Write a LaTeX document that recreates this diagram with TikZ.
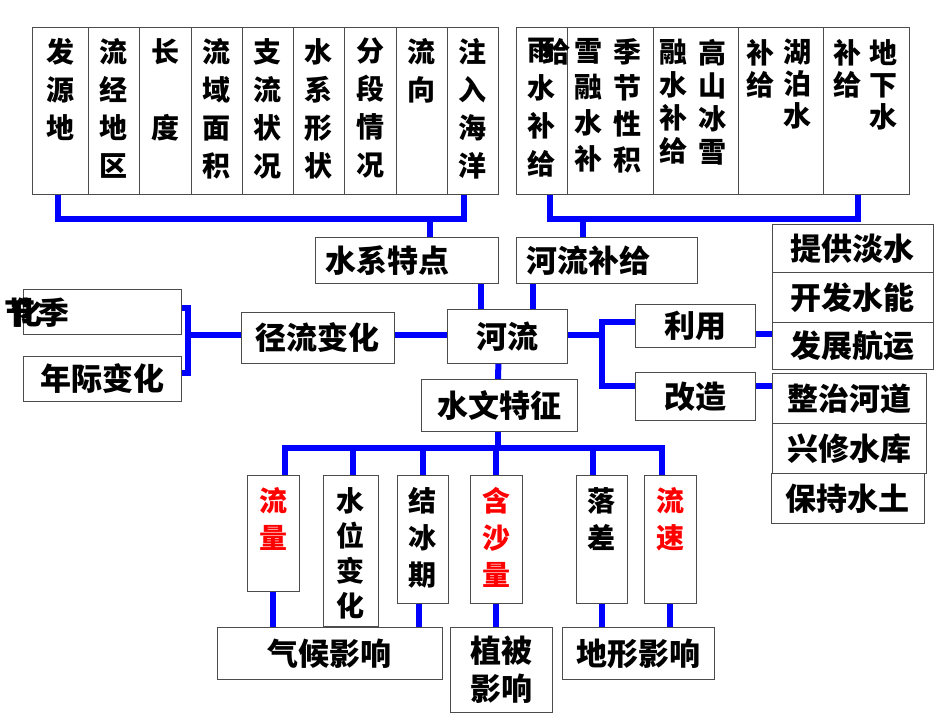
\documentclass[tikz,border=0pt]{standalone}
\usepackage{fontspec}
\setmainfont{Noto Sans CJK SC}
\usepackage{tikz}
\usetikzlibrary{positioning, calc}
\definecolor{linkblue}{RGB}{0, 0, 255}
\definecolor{hotred}{RGB}{255, 0, 0}
\tikzset{
  box/.style={draw=black!70, fill=white, line width=0.8pt, inner sep=0pt, anchor=north west},
  lbox/.style={box, inner xsep=10pt, text width=#1, align=left},
  link/.style={draw=linkblue, line width=6pt},
  vtxt/.style={align=center, anchor=north, inner sep=0pt, font=\bfseries\fontsize{28}{#1}\selectfont},
  vtxt/.default=38,
  htxt/.style={inner sep=0pt, font=\bfseries\fontsize{31}{38}\selectfont},
  hfont/.style={font=\bfseries\fontsize{31}{38}\selectfont},
}

\begin{document}
\begin{tikzpicture}[x=1pt, y=-1pt]
    \useasboundingbox (0,0) rectangle (950,713);

    % drainage features
    \node[box, minimum width=56, minimum height=167] (fayuan) at (32,27) {};
    \node[box, minimum width=51, minimum height=167] (jingguo) at (88,27) {};
    \node[box, minimum width=52, minimum height=167] (changdu) at (139,27) {};
    \node[box, minimum width=51, minimum height=167] (liuyu) at (191,27) {};
    \node[box, minimum width=51, minimum height=167] (zhiliu) at (242,27) {};
    \node[box, minimum width=51, minimum height=167] (xingzhuang) at (293,27) {};
    \node[box, minimum width=52, minimum height=167] (fenduan) at (344,27) {};
    \node[box, minimum width=51, minimum height=167] (liuxiang) at (396,27) {};
    \node[box, minimum width=51, minimum height=167] (zhuru) at (447,27) {};
    \node[vtxt, below=11pt of fayuan.north] (fayuan-t) {发\\源\\地};
    \node[vtxt, below=11pt of jingguo.north] (jingguo-t) {流\\经\\地\\区};
    \node[vtxt, below=11pt of changdu.north] (changdu-t) {长\\\mbox{}\\度};
    \node[vtxt, below=11pt of liuyu.north] (liuyu-t) {流\\域\\面\\积};
    \node[vtxt, below=11pt of zhiliu.north] (zhiliu-t) {支\\流\\状\\况};
    \node[vtxt, below=11pt of xingzhuang.north] (xingzhuang-t) {水\\系\\形\\状};
    \node[vtxt, below=11pt of fenduan.north] (fenduan-t) {分\\段\\情\\况};
    \node[vtxt, below=11pt of liuxiang.north] (liuxiang-t) {流\\向};
    \node[vtxt, below=11pt of zhuru.north] (zhuru-t) {注\\入\\海\\洋};

    % supply sources
    \node[box, minimum width=51, minimum height=167] (yushui) at (516,27) {};
    \node[box, minimum width=86, minimum height=167] (jijie) at (567,27) {};
    \node[box, minimum width=85, minimum height=167] (gaoshan) at (653,27) {};
    \node[box, minimum width=85, minimum height=167] (hupo) at (738,27) {};
    \node[box, minimum width=86, minimum height=167] (dixia) at (823,27) {};
    \node[vtxt, below=11pt of yushui.north] (yushui-t) {雨\\水\\补\\给};
    \node[vtxt, below=11pt of yushui.north, xshift=15pt] (yushui-x) {给};
    \node[vtxt=36, below=11pt of jijie.north, xshift=-22pt] (jijie-l) {雪\\融\\水\\补};
    \node[vtxt=36, below=11pt of jijie.north, xshift=17pt] (jijie-r) {季\\节\\性\\积};
    \node[vtxt=33, below=12pt of gaoshan.north, xshift=-22pt] (gaoshan-l) {融\\水\\补\\给};
    \node[vtxt=33, below=12pt of gaoshan.north, xshift=17pt] (gaoshan-r) {高\\山\\冰\\雪};
    \node[vtxt=32, below=12pt of hupo.north, xshift=-20pt] (hupo-l) {补\\给};
    \node[vtxt=32, below=12pt of hupo.north, xshift=17pt] (hupo-r) {湖\\泊\\水};
    \node[vtxt=32, below=12pt of dixia.north, xshift=-19pt] (dixia-l) {补\\给};
    \node[vtxt=32, below=12pt of dixia.north, xshift=17pt] (dixia-r) {地\\下\\水};

    % middle row
    \node[lbox=163pt, minimum height=46, hfont] (shuixi) at (315,237) {水系特点};
    \node[lbox=161pt, minimum height=46, hfont] (hebu) at (516,237) {河流补给};
    \node[box, minimum width=120, minimum height=54, hfont] (heliu) at (447,309) {河流};
    \node[box, minimum width=153, minimum height=51, hfont] (jingliu) at (241,312) {径流变化};
    \node[box, minimum width=158, minimum height=45] (jjbh) at (23,289) {};
    \node[htxt] (jjbh-a) at (54,313) {季};
    \node[htxt] (jjbh-b) at (20,313) {节};
    \node[htxt] (jjbh-c) at (27,313) {化};
    \node[box, minimum width=158, minimum height=45, hfont] (nianji) at (23,356) {年际变化};
    \node[box, minimum width=156, minimum height=52, hfont] (shuiwen) at (421,379) {水文特征};
    \node[box, minimum width=120, minimum height=43, hfont] (liyong) at (635,304) {利用};
    \node[box, minimum width=120, minimum height=48, hfont] (gaizao) at (635,372) {改造};

    % uses
    \node[box, minimum width=161, minimum height=48, hfont] (tigong) at (772,224) {提供淡水};
    \node[box, minimum width=161, minimum height=50, hfont] (kaifa) at (772,272) {开发水能};
    \node[box, minimum width=161, minimum height=47, hfont] (fazhan) at (772,322) {发展航运};
    \node[box, minimum width=154, minimum height=50, hfont] (zhengzhi) at (772,373) {整治河道};
    \node[box, minimum width=154, minimum height=50, hfont] (xingxiu) at (772,423) {兴修水库};
    \node[box, minimum width=153, minimum height=50, hfont] (baochi) at (771,473) {保持水土};

    % hydrological features
    \node[box, minimum width=52, minimum height=116] (liuliang) at (247,475) {};
    \node[box, minimum width=55, minimum height=151] (shuiwei) at (323,475) {};
    \node[box, minimum width=51, minimum height=128] (jiebing) at (397,475) {};
    \node[box, minimum width=52, minimum height=128] (hansha) at (470,475) {};
    \node[box, minimum width=51, minimum height=128] (luocha) at (576,475) {};
    \node[box, minimum width=52, minimum height=128] (liusu) at (644,475) {};
    \node[vtxt=37, text=hotred, below=12pt of liuliang.north] (liuliang-t) {流\\量};
    \node[vtxt=35, below=12pt of shuiwei.north] (shuiwei-t) {水\\位\\变\\化};
    \node[vtxt=37, below=12pt of jiebing.north] (jiebing-t) {结\\冰\\期};
    \node[vtxt=37, text=hotred, below=12pt of hansha.north] (hansha-t) {含\\沙\\量};
    \node[vtxt=37, below=12pt of luocha.north] (luocha-t) {落\\差};
    \node[vtxt=37, text=hotred, below=12pt of liusu.north] (liusu-t) {流\\速};

    \node[box, minimum width=225, minimum height=52, hfont] (qihou) at (217,627) {气候影响};
    \node[box, minimum width=102, minimum height=85, align=center, hfont] (zhibei) at (450,627) {植被\\影响};
    \node[box, minimum width=152, minimum height=52, hfont] (dixing) at (562,627) {地形影响};

    % connectors, top
    \coordinate (lbus) at (430,219);
    \coordinate (rbus) at (583,219);
    \draw[link] ([xshift=-2pt]fayuan.south) |- (lbus) -| ([xshift=-8.5pt]zhuru.south);
    \draw[link] (lbus) -- (lbus |- shuixi.north);
    \draw[link] ([xshift=8pt]yushui.south) |- (rbus) -| ([xshift=-8pt]dixia.south);
    \draw[link] (rbus) -- (rbus |- hebu.north);
    \coordinate (hl1) at ([xshift=-26pt]heliu.north);
    \coordinate (hl2) at ([xshift=26pt]heliu.north);
    \draw[link] (hl1) -- (hl1 |- shuixi.south);
    \draw[link] (hl2) -- (hl2 |- hebu.south);

    % connectors, left and right
    \coordinate (brk) at (188,335);
    \draw[link] ([yshift=3.5pt]jjbh.east) -| (brk) |- ([yshift=5.5pt]nianji.east);
    \draw[link] (brk) -- (brk -| jingliu.west);
    \draw[link] (heliu.west |- brk) -- (jingliu.east |- brk);
    \coordinate (fork) at (602,335);
    \draw[link] (heliu.east |- fork) -- (fork);
    \draw[link] ([yshift=3.5pt]liyong.west) -| (fork) |- ([yshift=10pt]gaizao.west);
    \coordinate (ly) at ([yshift=-8.5pt]liyong.east);
    \coordinate (gz) at ([yshift=10pt]gaizao.east);
    \draw[link] (ly) -- (ly -| fazhan.west);
    \draw[link] (gz) -- (gz -| zhengzhi.west);

    % connectors, bottom
    \coordinate (wbus) at (498,448);
    \draw[link] ([xshift=-9pt]heliu.south) -- (shuiwen.north -| wbus);
    \draw[link] (shuiwen.south -| wbus) -- (wbus);
    \draw[link] ([xshift=12pt]liuliang.north) |- (wbus) -| ([xshift=-8pt]liusu.north);
    \draw[link] ([xshift=2.5pt]shuiwei.north) -- ([xshift=2.5pt]shuiwei.north |- wbus);
    \draw[link] (jiebing.north) -- (jiebing.north |- wbus);
    \draw[link] (hansha.north) -- (hansha.north |- wbus);
    \draw[link] ([xshift=-8.5pt]luocha.north) -- ([xshift=-8.5pt]luocha.north |- wbus);
    \draw[link] (liuliang.south) -- (liuliang.south |- qihou.north);
    \draw[link] ([xshift=-4pt]jiebing.south) -- ([xshift=-4pt]jiebing.south |- qihou.north);
    \draw[link] (hansha.south) -- (hansha.south |- zhibei.north);
    \draw[link] (luocha.south) -- (luocha.south |- dixing.north);
    \draw[link] (liusu.south) -- (liusu.south |- dixing.north);
\end{tikzpicture}
\end{document}
